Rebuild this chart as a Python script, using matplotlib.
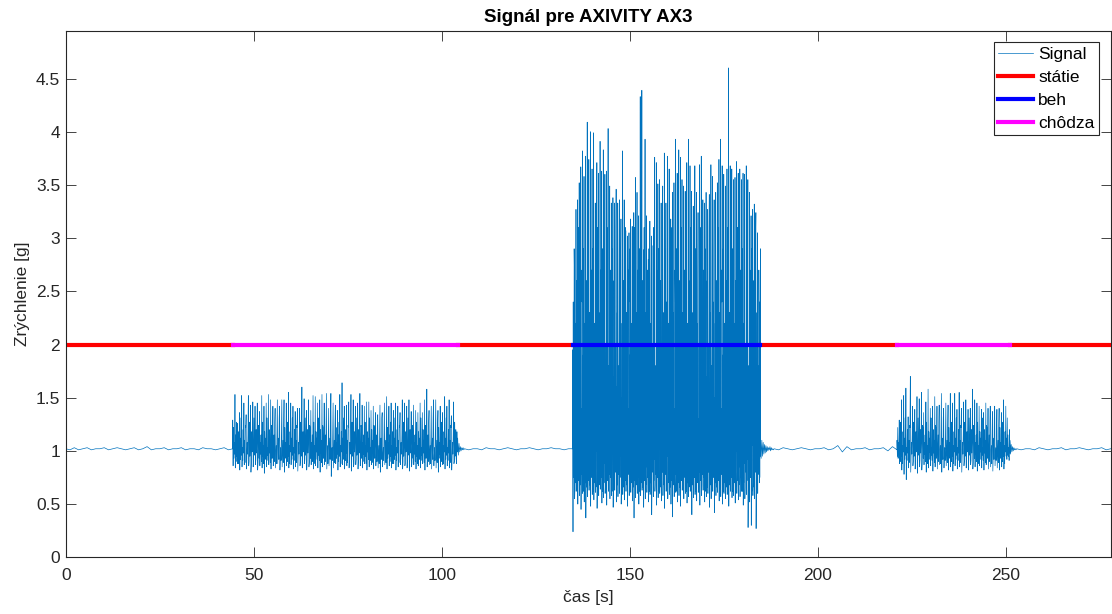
import numpy as np
import matplotlib
matplotlib.use('Agg')
import matplotlib.pyplot as plt
from matplotlib.ticker import FormatStrFormatter

plt.rcParams['font.family'] = ['Liberation Sans', 'DejaVu Sans']

# activity segments [s]
seg_starts = [0.0, 44.4, 104.2, 134.8, 184.7, 221.0, 251.0]
seg_ends = [44.4, 104.2, 134.8, 184.7, 221.0, 251.0, 277.8]
seg_labels = ['státie', 'chôdza', 'státie', 'beh', 'státie', 'chôdza', 'státie']
state_level = 2.0

# standing parts of the signal [g]
stand1 = [1.02, 1.01, 1.03, 1.01, 1.02, 1.03, 1.01, 1.02, 1.02, 1.03,
          1.01, 1.02, 1.03, 1.02, 1.01, 1.02, 1.03, 1.01, 1.02, 1.04,
          1.01, 1.02, 1.02, 1.03, 1.01, 1.02, 1.02, 1.03, 1.01, 1.02,
          1.02, 1.01, 1.03, 1.02, 1.02, 1.01, 1.02, 1.03, 1.01, 1.02]
stand2 = [1.02, 1.01, 1.02, 1.02, 1.01, 1.03, 1.02, 1.02, 1.01, 1.02,
          1.03, 1.02, 1.01, 1.02, 1.02, 1.03, 1.02, 1.01, 1.02, 1.02,
          1.03, 1.02, 1.02, 1.01, 1.02, 1.02]
stand3 = [1.02, 1.01, 1.03, 1.02, 1.01, 1.02, 1.03, 1.02, 1.01, 1.02,
          1.02, 1.03, 1.01, 1.02, 1.05, 0.99, 1.04, 1.01, 1.02, 1.02,
          1.03, 1.01, 1.02, 1.02, 1.03, 1.00, 1.04, 1.01]
stand4 = [1.02, 1.01, 1.02, 1.02, 1.01, 1.03, 1.02, 1.01, 1.02, 1.02,
          1.03, 1.01, 1.02, 1.02, 1.03, 1.02, 1.01, 1.02, 1.02, 1.03,
          1.01, 1.02]

# ring-down right after an activity [g]
walk1_tail = [1.12, 0.96, 1.07, 0.99, 1.04, 1.00, 1.03, 1.01, 1.03, 1.01]
run_tail = [1.14, 0.93, 1.10, 0.95, 1.08, 0.97, 1.06, 0.98, 1.05, 0.99,
            1.04, 1.00, 1.03, 1.01, 1.04, 1.00, 1.03, 1.01, 1.02, 1.01]
walk2_tail = [1.10, 0.97, 1.06, 0.99, 1.04, 1.00, 1.03, 1.01, 1.02, 1.01]

# walking 1 - step peaks / troughs [g]
walk1_peaks = [1.29, 1.53, 1.26, 1.36, 1.52, 1.45, 1.34, 1.52, 1.43, 1.46,
               1.42, 1.45, 1.37, 1.52, 1.42, 1.45, 1.53, 1.48, 1.42, 1.40,
               1.48, 1.42, 1.48, 1.48, 1.45, 1.55, 1.45, 1.42, 1.37, 1.40,
               1.40, 1.60, 1.49, 1.38, 1.48, 1.38, 1.52, 1.51, 1.45, 1.48,
               1.53, 1.45, 1.54, 1.40, 1.54, 1.45, 1.43, 1.38, 1.53, 1.64,
               1.42, 1.43, 1.46, 1.53, 1.48, 1.42, 1.45, 1.54, 1.43, 1.42,
               1.46, 1.46, 1.38, 1.42, 1.36, 1.34, 1.43, 1.36, 1.45, 1.51,
               1.42, 1.45, 1.38, 1.45, 1.42, 1.36, 1.48, 1.45, 1.42, 1.48,
               1.37, 1.43, 1.38, 1.36, 1.45, 1.36, 1.48, 1.58, 1.38, 1.42,
               1.48, 1.48, 1.38, 1.42, 1.36, 1.51, 1.42, 1.48, 1.33, 1.46,
               1.20]
walk1_troughs = [0.86, 0.84, 0.88, 0.82, 0.85, 0.87, 0.83, 0.86, 0.80, 0.85,
                 0.87, 0.82, 0.86, 0.84, 0.79, 0.85, 0.87, 0.83, 0.86, 0.84,
                 0.88, 0.82, 0.85, 0.80, 0.86, 0.84, 0.87, 0.83, 0.85, 0.81,
                 0.86, 0.84, 0.88, 0.82, 0.85, 0.87, 0.83, 0.86, 0.84, 0.80,
                 0.85, 0.87, 0.83, 0.86, 0.76, 0.84, 0.88, 0.82, 0.85, 0.87,
                 0.83, 0.86, 0.84, 0.81, 0.85, 0.87, 0.83, 0.86, 0.84, 0.88,
                 0.82, 0.85, 0.87, 0.83, 0.86, 0.84, 0.80, 0.85, 0.87, 0.83,
                 0.86, 0.84, 0.88, 0.82, 0.85, 0.87, 0.83, 0.86, 0.84, 0.81,
                 0.85, 0.87, 0.83, 0.86, 0.84, 0.88, 0.82, 0.85, 0.87, 0.83,
                 0.86, 0.84, 0.80, 0.85, 0.87, 0.83, 0.86, 0.84, 0.82, 0.88,
                 0.93]

# running - step peaks / troughs [g]
run_peaks = [1.95, 2.73, 3.27, 3.36, 3.52, 3.67, 3.82, 3.58, 3.77, 4.09,
             3.74, 4.00, 3.65, 3.99, 3.33, 3.71, 3.61, 3.91, 3.63, 3.83,
             3.60, 3.63, 4.03, 3.49, 3.33, 3.38, 3.33, 3.46, 3.33, 3.36,
             3.18, 3.82, 3.36, 3.07, 3.02, 3.05, 3.18, 3.11, 3.24, 3.57,
             3.43, 3.21, 4.33, 4.39, 2.89, 3.93, 3.21, 2.80, 3.16, 3.02,
             2.93, 3.76, 3.71, 3.51, 3.55, 3.33, 3.49, 3.80, 3.33, 3.77,
             3.65, 3.18, 3.43, 3.52, 3.93, 3.61, 3.83, 3.76, 3.55, 3.49,
             3.44, 3.71, 3.93, 3.68, 3.44, 3.30, 3.68, 3.43, 3.24, 3.69,
             3.77, 3.36, 3.33, 3.43, 3.27, 3.41, 3.69, 3.58, 3.36, 3.43,
             3.52, 3.74, 3.93, 3.68, 3.60, 3.49, 3.65, 4.60, 3.68, 3.65,
             3.55, 3.57, 3.72, 3.61, 3.65, 3.55, 3.61, 3.60, 3.68, 3.55,
             3.43, 3.21, 3.27, 3.32, 3.24, 3.05, 2.24]
run_troughs = [0.24, 0.55, 0.62, 0.50, 0.58, 0.45, 0.60, 0.52, 0.37, 0.57,
               0.63, 0.48, 0.59, 0.54, 0.61, 0.46, 0.58, 0.64, 0.51, 0.56,
               0.60, 0.49, 0.62, 0.55, 0.58, 0.47, 0.63, 0.52, 0.57, 0.60,
               0.50, 0.59, 0.54, 0.62, 0.48, 0.58, 0.61, 0.53, 0.37, 0.56,
               0.60, 0.50, 0.58, 0.63, 0.47, 0.55, 0.61, 0.52, 0.59, 0.40,
               0.57, 0.62, 0.49, 0.56, 0.60, 0.53, 0.58, 0.46, 0.62, 0.55,
               0.59, 0.50, 0.38, 0.57, 0.61, 0.52, 0.58, 0.48, 0.63, 0.55,
               0.60, 0.51, 0.57, 0.62, 0.40, 0.56, 0.59, 0.53, 0.61, 0.49,
               0.58, 0.63, 0.52, 0.57, 0.60, 0.47, 0.55, 0.62, 0.42, 0.58,
               0.61, 0.53, 0.57, 0.50, 0.60, 0.55, 0.59, 0.48, 0.62, 0.56,
               0.58, 0.51, 0.60, 0.54, 0.57, 0.62, 0.49, 0.55, 0.59, 0.28,
               0.52, 0.30, 0.58, 0.55, 0.27, 0.60, 0.70]

# walking 2 - step peaks / troughs [g]
walk2_peaks = [1.10, 1.29, 1.48, 1.52, 1.59, 1.32, 1.70, 1.42, 1.39, 1.51,
               1.49, 1.55, 1.36, 1.46, 1.58, 1.40, 1.42, 1.51, 1.42, 1.43,
               1.54, 1.40, 1.45, 1.43, 1.54, 1.45, 1.54, 1.39, 1.55, 1.40,
               1.46, 1.48, 1.39, 1.40, 1.58, 1.48, 1.45, 1.42, 1.39, 1.36,
               1.45, 1.40, 1.42, 1.37, 1.42, 1.39, 1.40, 1.36, 1.48, 1.42,
               1.15]
walk2_troughs = [0.95, 0.88, 0.82, 0.78, 0.73, 0.84, 0.80, 0.86, 0.83, 0.79,
                 0.85, 0.82, 0.87, 0.80, 0.84, 0.86, 0.81, 0.85, 0.83, 0.87,
                 0.80, 0.84, 0.86, 0.82, 0.85, 0.81, 0.86, 0.83, 0.85, 0.80,
                 0.86, 0.84, 0.82, 0.87, 0.83, 0.85, 0.81, 0.86, 0.84, 0.82,
                 0.87, 0.83, 0.85, 0.81, 0.86, 0.84, 0.82, 0.85, 0.83, 0.95,
                 0.95]

# smaller swings inside the steps [g]
walk_inner = [1.22, 0.93, 1.08, 0.97, 1.15, 0.90, 1.27, 0.95, 1.05, 0.88,
              1.18, 0.99, 1.12, 0.92, 1.31, 0.96, 1.03, 0.91, 1.20, 0.98,
              1.10, 0.89, 1.24]
run_inner = [2.40, 0.75, 1.90, 0.95, 2.90, 0.62, 1.50, 1.05, 2.20, 0.70,
             1.70, 0.88, 2.60, 0.66, 1.30, 1.00, 2.00, 0.80, 3.10, 0.72,
             1.60, 0.92, 2.30, 0.68, 1.80, 0.85, 1.40, 0.78, 2.70]


def build_still(tail, base, t0, t1, dt=0.18):
    t_tail = t0 + dt * np.arange(len(tail))
    t_base = np.linspace(t0 + dt * len(tail), t1, len(base))
    return np.concatenate([t_tail, t_base]), np.array(tail + base)


def build_active(peaks, troughs, inner, per_step, t0, t1):
    vals = []
    j = 0
    for p, q in zip(peaks, troughs):
        vals += [p, q]
        for _ in range(per_step):
            vals.append(inner[j % len(inner)])
            j += 1
    return np.linspace(t0, t1, len(vals)), np.array(vals)


parts = [
    build_still([], stand1, seg_starts[0], seg_ends[0]),
    build_active(walk1_peaks, walk1_troughs, walk_inner, 4, seg_starts[1], seg_ends[1]),
    build_still(walk1_tail, stand2, seg_starts[2], seg_ends[2]),
    build_active(run_peaks, run_troughs, run_inner, 5, seg_starts[3], seg_ends[3]),
    build_still(run_tail, stand3, seg_starts[4], seg_ends[4]),
    build_active(walk2_peaks, walk2_troughs, walk_inner, 4, seg_starts[5], seg_ends[5]),
    build_still(walk2_tail, stand4, seg_starts[6], seg_ends[6]),
]
t = np.concatenate([p[0] for p in parts])
sig = np.concatenate([p[1] for p in parts])

fig = plt.figure(figsize=(11.12, 6.14), dpi=100)
ax = fig.add_axes([0.0591, 0.0924, 0.9397, 0.8576])

ax.plot(t, sig, color='#0072BD', linewidth=0.5, label='Signal')

state_colors = {'státie': (1, 0, 0), 'beh': (0, 0, 1), 'chôdza': (1, 0, 1)}
for state in ['státie', 'beh', 'chôdza']:
    xs, ys = [], []
    for s, e, lab in zip(seg_starts, seg_ends, seg_labels):
        if lab == state:
            xs += [s, e, np.nan]
            ys += [state_level, state_level, np.nan]
    ax.plot(xs, ys, color=state_colors[state], linewidth=3, label=state)

ax.set_xlim(0, 277.8)
ax.set_ylim(0, 4.95)
ax.set_xticks([0, 50, 100, 150, 200, 250])
ax.set_yticks(np.arange(0, 4.6, 0.5))
ax.yaxis.set_major_formatter(FormatStrFormatter('%g'))

axis_col = (0.15, 0.15, 0.15)
for sp in ax.spines.values():
    sp.set_color(axis_col)
    sp.set_linewidth(0.8)
ax.tick_params(direction='in', length=7, width=0.6, colors=axis_col,
               labelsize=12.5, top=True, right=True)
ax.tick_params(axis='x', pad=8)
ax.tick_params(axis='y', pad=4)

ax.set_title('Signál pre AXIVITY AX3', fontweight='bold', fontsize=13.5, pad=6)
ax.set_xlabel('čas [s]', fontsize=12.5, color=axis_col, labelpad=5)
ax.set_ylabel('Zrýchlenie [g]', fontsize=12.5, color=axis_col, labelpad=4)

leg = ax.legend(loc='upper right', fontsize=12.5, fancybox=False, framealpha=1,
                edgecolor=axis_col, handlelength=2.0, borderpad=0.25,
                labelspacing=0.45, handletextpad=0.3, borderaxespad=0.67)
leg.get_frame().set_linewidth(0.8)

fig.savefig('out.png', dpi=100)
